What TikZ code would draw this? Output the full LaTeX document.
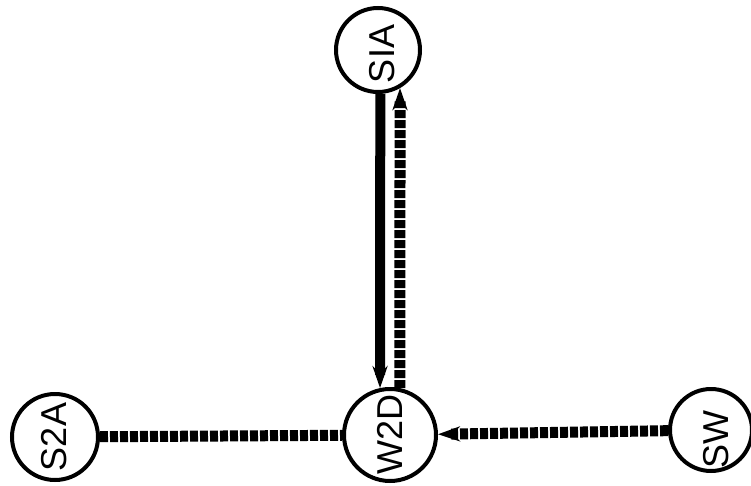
\documentclass[tikz,border=0pt]{standalone}
\usepackage{fontspec}
\setmainfont{Liberation Sans}
\usetikzlibrary{arrows.meta}
\begin{document}
\begin{tikzpicture}[x=1pt,y=-1pt,
  station/.style={circle,draw=black,line width=4pt,inner sep=0pt,fill=white},
  lbl/.style={rotate=90,font=\fontsize{36}{36}\selectfont,inner sep=0pt},
  solidlink/.style={line width=10pt,-{Stealth[length=22pt,width=15pt]}},
  dashlink/.style={line width=11pt,dash pattern=on 8pt off 2pt},
  dasharrow/.style={dashlink,-{Stealth[length=22pt,width=15pt]}}]
  \useasboundingbox (0,0) rectangle (751,486);
  % stations
  \node[station,minimum size=84pt] (sia) at (378,50) {};
  \node[station,minimum size=92pt] (w2d) at (390,435) {};
  \node[station,minimum size=86pt] (s2a) at (55,437) {};
  \node[station,minimum size=82pt] (sw) at (711,430) {};
  % links
  \draw[solidlink] (sia.-87.3) -- (w2d.102.6);
  \draw[dasharrow] (w2d.78.7) -- (sia.-60);
  \draw[dashlink] (s2a) -- (w2d);
  \draw[dasharrow] (sw) -- (w2d);
  % labels
  \node[lbl] (tsia) at (382,54) {SIA};
  \node[lbl] (tw2d) at (390,434) {W2D};
  \node[lbl] (ts2a) at (54,437) {S2A};
  \node[lbl] (tsw) at (716,440) {SW};
\end{tikzpicture}
\end{document}
